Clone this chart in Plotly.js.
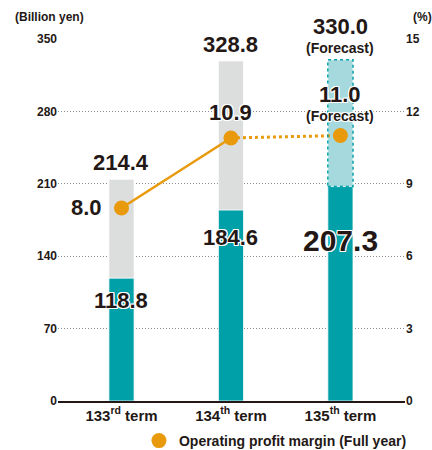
<!DOCTYPE html>
<html>
<head>
<meta charset="utf-8">
<script src="https://cdn.plot.ly/plotly-3.0.1.min.js"></script>
<style>html,body{margin:0;padding:0;background:#fff;}</style>
</head>
<body>
<div id="chart" style="width:432px;height:450px;"></div>
<script>
const categories = ["133<sup>rd</sup> term", "134<sup>th</sup> term", "135<sup>th</sup> term"];
const netSales = [214.4, 328.8, 330.0];
const operatingProfit = [118.8, 184.6, 207.3];
const profitMargin = [8.0, 10.9, 11.0];
const forecastFlags = [false, false, true];
const yTicks = [0, 70, 140, 210, 280, 350];
const y2Ticks = [0, 3, 6, 9, 12, 15];

const FONT = '"Liberation Sans", Arial, Helvetica, sans-serif';
const TXT = '#231815';
const GRAY = '#dcdddd';
const TEAL = '#00a0a8';
const LTEAL = '#a6d9dd';
const ORANGE = '#e99a0c';
const BARW = 0.23;
const OUTLINE = '-1px -1px 0 #fff, 1px -1px 0 #fff, -1px 1px 0 #fff, 1px 1px 0 #fff, 0 1px 0 #fff, 0 -1px 0 #fff, 1px 0 0 #fff, -1px 0 0 #fff';

const solidN = forecastFlags.indexOf(true);
const traces = [
  {
    type: 'bar', x: categories, y: netSales, width: BARW,
    marker: {color: forecastFlags.map(f => f ? LTEAL : GRAY), line: {color: '#fff', width: 0.8}},
    hoverinfo: 'skip', showlegend: false
  },
  {
    type: 'bar', x: categories, y: operatingProfit, width: BARW,
    marker: {color: TEAL, line: {color: '#fff', width: 0.8}},
    hoverinfo: 'skip', showlegend: false
  },
  {
    type: 'scatter', mode: 'lines', yaxis: 'y2',
    x: categories.slice(0, solidN), y: profitMargin.slice(0, solidN),
    line: {color: ORANGE, width: 2.5}, showlegend: false, hoverinfo: 'skip'
  },
  {
    type: 'scatter', mode: 'lines', yaxis: 'y2',
    x: categories.slice(solidN - 1), y: profitMargin.slice(solidN - 1),
    line: {color: ORANGE, width: 3, dash: 'dot'}, showlegend: false, hoverinfo: 'skip'
  },
  {
    type: 'scatter', mode: 'markers', yaxis: 'y2',
    x: categories, y: profitMargin,
    marker: {color: ORANGE, size: 15},
    name: 'Operating profit margin (Full year)', showlegend: true, hoverinfo: 'skip'
  }
];

const annotations = [];
const big = {family: FONT, size: 22, color: TXT, weight: 'bold'};
const small = {family: FONT, size: 14, color: TXT, weight: 'bold'};

netSales.forEach((v, i) => {
  const f = forecastFlags[i];
  annotations.push({
    x: categories[i], y: v, xref: 'x', yref: 'y',
    text: v.toFixed(1), showarrow: false, yanchor: 'bottom', yshift: f ? 20 : 3,
    font: big, bgcolor: '#fff', borderpad: 0
  });
  if (f) {
    annotations.push({
      x: categories[i], y: v, xref: 'x', yref: 'y',
      text: '(Forecast)', showarrow: false, yanchor: 'bottom', yshift: 3,
      font: small, bgcolor: '#fff', borderpad: 0
    });
  }
});
operatingProfit.forEach((v, i) => {
  const f = forecastFlags[i];
  annotations.push({
    x: categories[i], y: v, xref: 'x', yref: 'y',
    text: v.toFixed(1), showarrow: false, yanchor: 'middle',
    yshift: f ? -54 : (i === 0 ? -22 : -27),
    font: Object.assign({}, big, {size: f ? 30 : 22, shadow: OUTLINE})
  });
});
profitMargin.forEach((v, i) => {
  const f = forecastFlags[i];
  const a = {
    x: categories[i], y: v, xref: 'x', yref: 'y2',
    text: v.toFixed(1), showarrow: false,
    font: Object.assign({}, big, {shadow: OUTLINE})
  };
  if (i === 0) { a.xanchor = 'right'; a.xshift = -17; a.yanchor = 'middle'; }
  else if (f) { a.yanchor = 'middle'; a.yshift = 41; }
  else { a.yanchor = 'middle'; a.yshift = 25; }
  annotations.push(a);
  if (f) {
    annotations.push({
      x: categories[i], y: v, xref: 'x', yref: 'y2',
      text: '(Forecast)', showarrow: false, yanchor: 'middle', yshift: 20,
      font: Object.assign({}, small, {shadow: OUTLINE})
    });
  }
});
annotations.push({
  xref: 'paper', yref: 'paper', x: -0.13, y: 1.062, xanchor: 'left', yanchor: 'middle',
  text: '(Billion yen)', showarrow: false, font: {family: FONT, size: 12, color: TXT, weight: 'bold'}
});
annotations.push({
  xref: 'paper', yref: 'paper', x: 1.049, y: 1.062, xanchor: 'center', yanchor: 'middle',
  text: '(%)', showarrow: false, font: {family: FONT, size: 12, color: TXT, weight: 'bold'}
});

const shapes = [];
forecastFlags.forEach((f, i) => {
  if (!f) return;
  shapes.push({
    type: 'rect', xref: 'x', yref: 'y', layer: 'above',
    x0: i - BARW / 2, x1: i + BARW / 2, y0: operatingProfit[i], y1: netSales[i],
    line: {color: TEAL, width: 1.5, dash: 'dot'}, fillcolor: 'rgba(0,0,0,0)'
  });
});

const layout = {
  width: 432, height: 450,
  margin: {l: 58, r: 27, t: 39, b: 49, autoexpand: false},
  paper_bgcolor: '#fff', plot_bgcolor: '#fff',
  font: {family: FONT, color: TXT},
  barmode: 'overlay',
  xaxis: {
    type: 'category', range: [-0.58, 2.59], showgrid: false, zeroline: false,
    showline: true, linecolor: TXT, linewidth: 1.5, ticks: '', automargin: false,
    tickfont: {family: FONT, size: 15, color: TXT, weight: 'bold'}
  },
  yaxis: {
    range: [0, 350], tickvals: yTicks, ticktext: yTicks.map(String), automargin: false,
    showgrid: true, gridcolor: '#8c8c8c', griddash: '1px,2px', gridwidth: 1,
    zeroline: false, showline: false, ticks: '',
    tickfont: {family: FONT, size: 12, color: TXT, weight: 'bold'}
  },
  yaxis2: {
    overlaying: 'y', side: 'right', range: [0, 15], tickvals: y2Ticks, automargin: false,
    showgrid: false, zeroline: false, showline: false, ticks: '',
    tickfont: {family: FONT, size: 12, color: TXT, weight: 'bold'}
  },
  showlegend: true,
  legend: {
    orientation: 'h', xref: 'paper', yref: 'paper', x: 1.02, xanchor: 'right', y: -0.1105, yanchor: 'middle',
    font: {family: FONT, size: 14, color: TXT, weight: 'bold'},
    bgcolor: 'rgba(0,0,0,0)', itemwidth: 20
  },
  annotations: annotations,
  shapes: shapes
};

Plotly.newPlot('chart', traces, layout, {staticPlot: true, displayModeBar: false});
</script>
</body>
</html>
